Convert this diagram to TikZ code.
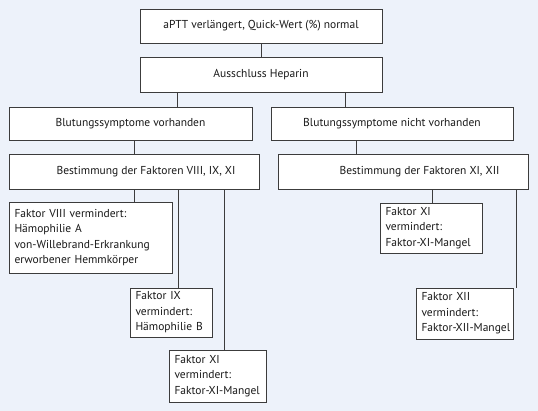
\documentclass[tikz,border=0pt]{standalone}
\usepackage{fontspec}
\setmainfont{PT Sans}
\definecolor{bg}{RGB}{237,242,250}
\definecolor{ln}{RGB}{60,60,60}
\newcommand{\ml}[1]{\mbox{#1}}
\begin{document}
\begin{tikzpicture}[x=1pt,y=-1pt,
  box/.style={draw=ln,line width=0.9pt,fill=white,inner sep=0pt,font=\fontsize{11.5}{15.6}\selectfont,text=black!90},
  mbox/.style={box,align=left,inner xsep=5.5pt},
  conn/.style={draw=ln,line width=0.9pt}]
\fill[bg] (0,0) rectangle (538,411);
\useasboundingbox (0,0) rectangle (538,411);
\node[box,minimum width=242pt,minimum height=34pt] (b1) at (261,26) {aPTT verlängert, Quick-Wert (\%) normal};
\node[box,minimum width=242pt,minimum height=35pt] (b2) at (261,74.5) {Ausschluss Heparin};
\node[box,minimum width=243pt,minimum height=33pt] (b3) at (130.5,123.5) {Blutungssymptome vorhanden};
\node[box,minimum width=242pt,minimum height=33pt] (b4) at (392,123.5) {Blutungssymptome nicht vorhanden};
\node[box,minimum width=250pt,minimum height=35pt] (b5) at (134,171.5) {\hspace*{24pt}Bestimmung der Faktoren VIII, IX, XI};
\node[box,minimum width=250pt,minimum height=35pt] (b6) at (403,171.5) {\hspace*{33pt}Bestimmung der Faktoren XI, XII};
\node[mbox,text width=152pt,minimum height=71pt] (b7) at (90.5,237.5) {\ml{Faktor VIII vermindert:}\\\ml{Hämophilie A}\\\ml{von-Willebrand-Erkrankung}\\\ml{erworbener Hemmkörper}};
\node[mbox,text width=71pt,minimum height=49pt] (b8) at (171,312.5) {\ml{Faktor IX}\\\ml{vermindert:}\\\ml{Hämophilie B}};
\node[mbox,text width=86pt,minimum height=52pt] (b9) at (217.5,376) {\ml{Faktor XI}\\\ml{vermindert:}\\\ml{Faktor-XI-Mangel}};
\node[mbox,text width=91pt,minimum height=50pt] (b10) at (431,228) {\ml{Faktor XI}\\\ml{vermindert:}\\\ml{Faktor-XI-Mangel}};
\node[mbox,text width=86pt,minimum height=51pt] (b11) at (464.5,313.5) {\ml{Faktor XII}\\\ml{vermindert:}\\\ml{Faktor-XII-Mangel}};
\draw[conn] (b1.south) -- (b2.north);
\draw[conn] (b2.south -| 177,0) -- (b3.north -| 177,0);
\draw[conn] (b2.south -| 345,0) -- (b4.north -| 345,0);
\draw[conn] (b3.south -| 134,0) -- (b5.north -| 134,0);
\draw[conn] (b4.south -| 356,0) -- (b6.north -| 356,0);
\draw[conn] (b5.south -| 134,0) -- (b7.north -| 134,0);
\draw[conn] (b5.south -| 178,0) -- (b8.north -| 178,0);
\draw[conn] (b5.south -| 224,0) -- (b9.north -| 224,0);
\draw[conn] (b6.south -| 432,0) -- (b10.north -| 432,0);
\draw[conn] (b6.south -| 516,0) -- (b11.north -| 516,0);
\end{tikzpicture}
\end{document}
